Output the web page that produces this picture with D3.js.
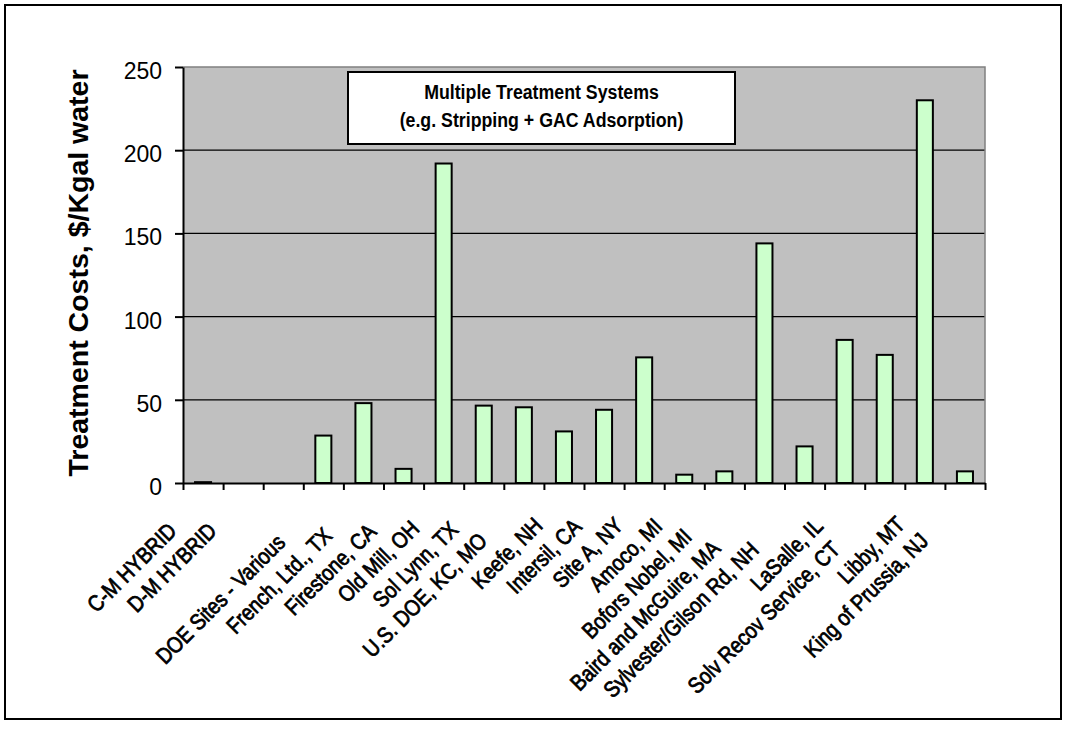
<!DOCTYPE html>
<html>
<head>
<meta charset="utf-8">
<script src="https://cdn.jsdelivr.net/npm/d3@7"></script>
<style>
  html, body { margin: 0; padding: 0; background: #ffffff; }
  svg { display: block; font-family: "Liberation Sans", Arial, sans-serif; }
</style>
</head>
<body>
<svg id="chart" width="1068" height="735"></svg>
<script>
const categories = ["C-M HYBRID", "D-M HYBRID", "", "DOE Sites - Various", "French, Ltd., TX",
  "Firestone, CA", "Old Mill, OH", "Sol Lynn, TX", "U.S. DOE, KC, MO", "Keefe, NH",
  "Intersil, CA", "Site A, NY", "Amoco, MI", "Bofors Nobel, MI", "Baird and McGuire, MA",
  "Sylvester/Gilson Rd, NH", "LaSalle, IL", "Solv Recov Service, CT", "Libby, MT", "King of Prussia, NJ"];
const costs = [0.5, 0, 0, 28.5, 48, 8.5, 192, 46.5, 45.5, 31, 44, 75.5, 5, 7, 144, 22, 86, 77, 230, 7];
const yTicks = [0, 50, 100, 150, 200, 250];
const yTitle = "Treatment Costs, $/Kgal water";
const boxLines = ["Multiple Treatment Systems", "(e.g. Stripping + GAC Adsorption)"];

const svg = d3.select("#chart");
const plot = {left: 183, right: 985, top: 67, bottom: 483};

// outer frame
svg.append("rect").attr("x", 5).attr("y", 5).attr("width", 1056).attr("height", 714)
  .attr("fill", "#fff").attr("stroke", "#000").attr("stroke-width", 2);

const idx = d3.range(categories.length);
const x = d3.scaleBand().domain(idx).range([plot.left, plot.right]).padding(0);
const xb = d3.scaleLinear().domain([0, categories.length]).range([plot.left, plot.right]);
const y = d3.scaleLinear().domain([0, 250]).range([plot.bottom, plot.top]);

// plot background
svg.append("rect").attr("x", plot.left).attr("y", plot.top)
  .attr("width", plot.right - plot.left).attr("height", plot.bottom - plot.top)
  .attr("fill", "#C0C0C0");

// gridlines
svg.append("g").selectAll("line").data(yTicks.filter(d => d > 0 && d < 250)).join("line")
  .attr("x1", plot.left).attr("x2", plot.right)
  .attr("y1", d => y(d)).attr("y2", d => y(d))
  .attr("stroke", "#000").attr("stroke-width", 1.2);

// plot border (top / right, grey)
svg.append("path")
  .attr("d", `M${plot.left},${y(250)}H${plot.right}V${plot.bottom}`)
  .attr("fill", "none").attr("stroke", "#808080").attr("stroke-width", 1.5);

// bars
const bw = x.bandwidth() * 0.4;
svg.append("g").selectAll("rect").data(idx).join("rect")
  .attr("x", i => x(i) + (x.bandwidth() - bw) / 2)
  .attr("width", bw)
  .attr("y", i => y(costs[i]))
  .attr("height", i => y(0) - y(costs[i]))
  .attr("fill", "#CCFFCC").attr("stroke", "#000").attr("stroke-width", 2);

// y axis
const yAxis = svg.append("g").attr("transform", `translate(${plot.left},0)`)
  .call(d3.axisLeft(y).tickValues(yTicks).tickSize(8).tickPadding(13).tickSizeOuter(0));
yAxis.select(".domain").attr("stroke", "#000").attr("stroke-width", 2);
yAxis.selectAll(".tick line").attr("stroke", "#000").attr("stroke-width", 2);
yAxis.selectAll(".tick text")
  .attr("font-family", "'Liberation Sans', Arial, sans-serif")
  .attr("font-size", 23).attr("fill", "#000").attr("dy", "0.5em");

// x axis (ticks at category boundaries)
const xAxis = svg.append("g").attr("transform", `translate(0,${plot.bottom})`)
  .call(d3.axisBottom(xb).tickValues(d3.range(categories.length + 1)).tickFormat("").tickSize(7).tickSizeOuter(0));
xAxis.select(".domain").attr("stroke", "#000").attr("stroke-width", 2);
xAxis.selectAll(".tick line").attr("stroke", "#000").attr("stroke-width", 2);

// category labels (rotated 45°, condensed); anchor = baseline end
const fs = 22.5, sx = 0.86;
const labels = svg.append("g").selectAll("text").data(idx).join("text")
  .attr("font-family", "'Liberation Sans', Arial, sans-serif")
  .attr("font-size", fs).attr("fill", "#000")
  .attr("stroke", "#000").attr("stroke-width", 0.8)
  .attr("text-anchor", "end")
  .text(i => categories[i]);
labels.each(function(i) {
  const L = this.getComputedTextLength() * sx;
  const c = x(i) + x.bandwidth() / 2;
  const ax = c - 1.7 - 0.2046 * L, ay = 508.8 + 0.2046 * L;
  d3.select(this).attr("transform", `translate(${ax},${ay}) rotate(-45) scale(${sx},1)`);
});

// y title
svg.append("text")
  .attr("transform", `translate(88,273) rotate(-90)`)
  .attr("text-anchor", "middle")
  .attr("font-size", 28.5).attr("font-weight", "bold").attr("fill", "#000")
  .text(yTitle);

// annotation box
svg.append("rect").attr("x", 348).attr("y", 72).attr("width", 387).attr("height", 72)
  .attr("fill", "#fff").attr("stroke", "#000").attr("stroke-width", 2);
svg.append("g").selectAll("text").data(boxLines).join("text")
  .attr("transform", (d, i) => `translate(541.5,${i === 0 ? 99 : 127}) scale(0.845,1)`)
  .attr("text-anchor", "middle")
  .attr("font-size", 21).attr("font-weight", "bold").attr("fill", "#000")
  .text(d => d);
</script>
</body>
</html>
